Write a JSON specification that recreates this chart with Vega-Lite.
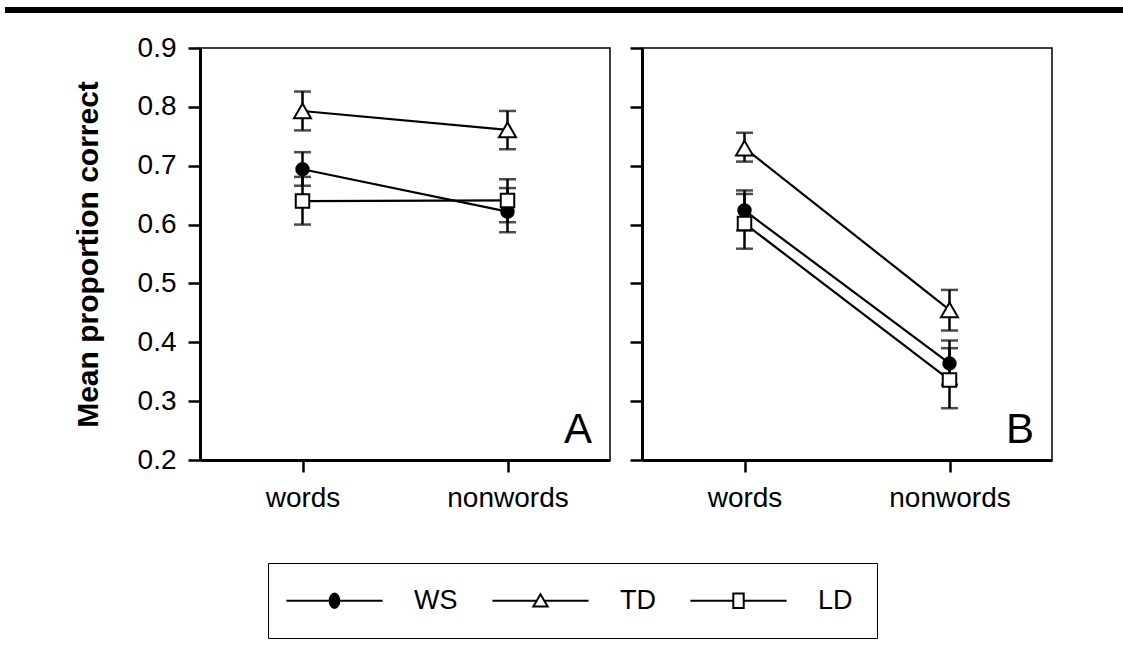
{
  "$schema": "https://vega.github.io/schema/vega-lite/v6.json",
  "padding": {"left": 5, "top": 7, "right": 0, "bottom": 0},
  "background": "white",
  "spacing": 17,
  "config": {
    "font": "Liberation Sans",
    "view": {"stroke": "black", "strokeWidth": 1.5},
    "axis": {"domainColor": "black", "domainWidth": 3, "tickColor": "black", "tickWidth": 2.5, "tickSize": 12, "labelColor": "black", "labelFontSize": 28, "labelFont": "Liberation Sans", "grid": false, "titleColor": "black"}
  },
  "data": {"values": [
    {"panel": "A", "cond": "words", "group": "WS", "mean": 0.694, "lo": 0.666, "hi": 0.723},
    {"panel": "A", "cond": "nonwords", "group": "WS", "mean": 0.622, "lo": 0.587, "hi": 0.662},
    {"panel": "A", "cond": "words", "group": "TD", "mean": 0.793, "lo": 0.760, "hi": 0.826},
    {"panel": "A", "cond": "nonwords", "group": "TD", "mean": 0.761, "lo": 0.728, "hi": 0.793},
    {"panel": "A", "cond": "words", "group": "LD", "mean": 0.640, "lo": 0.600, "hi": 0.681},
    {"panel": "A", "cond": "nonwords", "group": "LD", "mean": 0.641, "lo": 0.604, "hi": 0.677},
    {"panel": "B", "cond": "words", "group": "WS", "mean": 0.624, "lo": 0.590, "hi": 0.658},
    {"panel": "B", "cond": "nonwords", "group": "WS", "mean": 0.364, "lo": 0.328, "hi": 0.403},
    {"panel": "B", "cond": "words", "group": "TD", "mean": 0.730, "lo": 0.707, "hi": 0.756},
    {"panel": "B", "cond": "nonwords", "group": "TD", "mean": 0.455, "lo": 0.420, "hi": 0.489},
    {"panel": "B", "cond": "words", "group": "LD", "mean": 0.602, "lo": 0.559, "hi": 0.652},
    {"panel": "B", "cond": "nonwords", "group": "LD", "mean": 0.336, "lo": 0.288, "hi": 0.390}
  ]},
  "hconcat": [
    {
      "width": 410, "height": 412,
      "transform": [{"filter": "datum.panel === 'A'"}],
      "encoding": {
        "x": {"field": "cond", "type": "nominal", "sort": ["words", "nonwords"], "scale": {"type": "point", "padding": 0.5}, "axis": {"title": null, "labelAngle": 0, "labelPadding": 12}},
        "y": {"field": "mean", "type": "quantitative", "title": "Mean proportion correct", "scale": {"domain": [0.2, 0.9], "nice": false, "zero": false}, "axis": {"values": [0.2, 0.3, 0.4, 0.5, 0.6, 0.7, 0.8, 0.9], "format": ".1f", "titleFontSize": 30, "titleFontWeight": "bold", "titlePadding": 34, "labelPadding": 12}}
      },
      "layer": [
        {
          "mark": {"type": "line", "color": "black", "strokeWidth": 2.2},
          "encoding": {"detail": {"field": "group"}}
        },
        {
          "mark": {"type": "errorbar", "color": "black", "thickness": 2.5, "ticks": {"size": 17, "thickness": 2.5, "color": "black"}},
          "encoding": {
            "y": {"field": "lo", "type": "quantitative", "title": "Mean proportion correct"},
            "y2": {"field": "hi"},
            "detail": {"field": "group"}
          }
        },
        {
          "transform": [{"filter": "datum.group === 'WS'"}],
          "mark": {"type": "point", "shape": "circle", "filled": true, "fill": "black", "stroke": "black", "strokeWidth": 2, "size": 154, "opacity": 1}
        },
        {
          "transform": [{"filter": "datum.group === 'TD'"}],
          "mark": {"type": "point", "shape": "triangle-up", "filled": true, "fill": "white", "stroke": "black", "strokeWidth": 2, "size": 289, "opacity": 1}
        },
        {
          "transform": [{"filter": "datum.group === 'LD'"}],
          "mark": {"type": "point", "shape": "square", "filled": true, "fill": "white", "stroke": "black", "strokeWidth": 2, "size": 182, "opacity": 1}
        },
        {
          "transform": [{"filter": "false"}],
          "mark": {"type": "point", "filled": true, "stroke": "black", "strokeWidth": 2, "size": 169, "opacity": 1},
          "encoding": {
            "shape": {"field": "group", "type": "nominal", "scale": {"domain": ["WS", "TD", "LD"], "range": ["M-7.4,0H-0.75M0.75,0H7.4M0.75,0A0.75,1.1,0,1,1,-0.75,0A0.75,1.1,0,1,1,0.75,0Z", "M-7.4,0H-0.6M0.6,0H7.4M0,-1L1.1,0.9L-1.1,0.9Z", "M-7.4,0H-0.8M0.8,0H7.4M-0.8,-1.1H0.8V1.1H-0.8Z"]},
              "legend": {"orient": "none", "legendX": 68, "legendY": 515, "direction": "horizontal", "title": null, "strokeColor": "black", "padding": 24, "labelFontSize": 27, "labelColor": "black", "labelFont": "Liberation Sans", "symbolSize": 169, "symbolStrokeWidth": 2, "symbolStrokeColor": "black", "symbolOpacity": 1, "symbolOffset": 29, "labelOffset": 66, "columnPadding": 30,
                "encode": {"legend": {"strokeWidth": {"value": 2}}}}
            },
            "fill": {"field": "group", "type": "nominal", "scale": {"domain": ["WS", "TD", "LD"], "range": ["black", "white", "white"]},
              "legend": {"orient": "none", "legendX": 68, "legendY": 515, "direction": "horizontal", "title": null, "strokeColor": "black", "padding": 24, "labelFontSize": 27, "labelColor": "black", "labelFont": "Liberation Sans", "symbolSize": 169, "symbolStrokeWidth": 2, "symbolStrokeColor": "black", "symbolOpacity": 1, "symbolOffset": 29, "labelOffset": 66, "columnPadding": 30,
                "encode": {"legend": {"strokeWidth": {"value": 2}}}}
            }
          }
        },
        {
          "data": {"values": [{"label": "A", "panel": "A", "k": 0}]},
          "mark": {"type": "text", "fontSize": 42, "align": "right", "baseline": "alphabetic", "dx": -18, "dy": -17},
          "encoding": {
            "text": {"field": "label"},
            "x": {"value": "width"},
            "y": {"value": "height"},
            "color": {"field": "k", "type": "quantitative", "scale": {"domain": [0, 1], "range": ["black", "black"]},
              "legend": {"orient": "none", "legendX": -195, "legendY": -41, "direction": "horizontal", "title": null, "gradientLength": 1118, "gradientThickness": 6, "gradientStrokeWidth": 0, "padding": 0, "labelExpr": "''", "labelOpacity": 0}}
          }
        }
      ]
    },
    {
      "width": 410, "height": 412,
      "transform": [{"filter": "datum.panel === 'B'"}],
      "encoding": {
        "x": {"field": "cond", "type": "nominal", "sort": ["words", "nonwords"], "scale": {"type": "point", "padding": 0.5}, "axis": {"title": null, "labelAngle": 0, "labelPadding": 12}},
        "y": {"field": "mean", "type": "quantitative", "title": null, "scale": {"domain": [0.2, 0.9], "nice": false, "zero": false}, "axis": {"values": [0.2, 0.3, 0.4, 0.5, 0.6, 0.7, 0.8, 0.9], "labels": false}}
      },
      "layer": [
        {
          "mark": {"type": "line", "color": "black", "strokeWidth": 2.2},
          "encoding": {"detail": {"field": "group"}}
        },
        {
          "mark": {"type": "errorbar", "color": "black", "thickness": 2.5, "ticks": {"size": 17, "thickness": 2.5, "color": "black"}},
          "encoding": {
            "y": {"field": "lo", "type": "quantitative", "title": null},
            "y2": {"field": "hi"},
            "detail": {"field": "group"}
          }
        },
        {
          "transform": [{"filter": "datum.group === 'WS'"}],
          "mark": {"type": "point", "shape": "circle", "filled": true, "fill": "black", "stroke": "black", "strokeWidth": 2, "size": 154, "opacity": 1}
        },
        {
          "transform": [{"filter": "datum.group === 'TD'"}],
          "mark": {"type": "point", "shape": "triangle-up", "filled": true, "fill": "white", "stroke": "black", "strokeWidth": 2, "size": 289, "opacity": 1}
        },
        {
          "transform": [{"filter": "datum.group === 'LD'"}],
          "mark": {"type": "point", "shape": "square", "filled": true, "fill": "white", "stroke": "black", "strokeWidth": 2, "size": 182, "opacity": 1}
        },
        {
          "data": {"values": [{"label": "B", "panel": "B"}]},
          "mark": {"type": "text", "fontSize": 42, "align": "right", "baseline": "alphabetic", "dx": -18, "dy": -17, "color": "black"},
          "encoding": {"text": {"field": "label"}, "x": {"value": "width"}, "y": {"value": "height"}}
        }
      ]
    }
  ]
}
